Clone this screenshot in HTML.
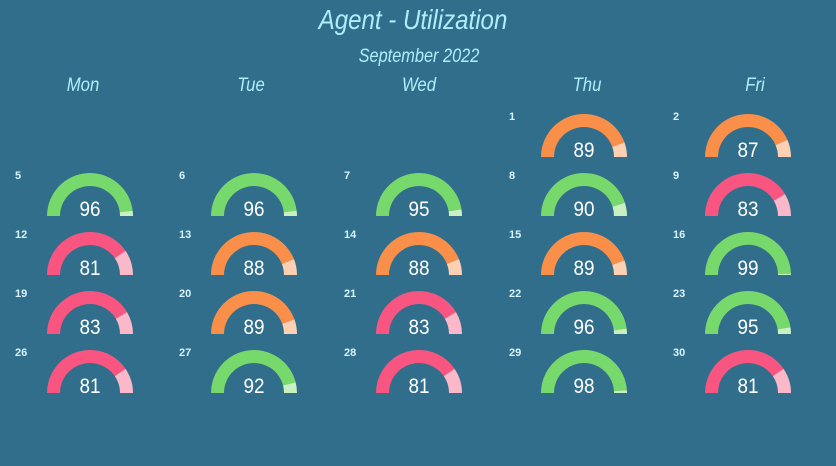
<!DOCTYPE html>
<html><head><meta charset="utf-8"><style>
html,body{margin:0;padding:0;background:#316e8c;}
svg{display:block}
</style></head><body>
<svg id="s" width="836" height="466" xmlns="http://www.w3.org/2000/svg" font-family="Liberation Sans, sans-serif">
<rect width="836" height="466" fill="#316e8c"/>
<text x="413" y="29" text-anchor="middle" font-size="28" font-style="italic" fill="#aeeefa" transform="translate(413,0) scale(0.86,1) translate(-413,0)">Agent - Utilization</text>
<text x="419" y="62" text-anchor="middle" font-size="19" font-style="italic" fill="#aeeefa" transform="translate(419,0) scale(0.86,1) translate(-419,0)">September 2022</text>
</svg>
<script>
var s=document.getElementById('s'),NS='http://www.w3.org/2000/svg';
function el(t,a,txt){var e=document.createElementNS(NS,t);for(var k in a)e.setAttribute(k,a[k]);if(txt!=null)e.textContent=txt;s.appendChild(e);return e;}
var cols=[90,254,419,584,748],days=['Mon','Tue','Wed','Thu','Fri'];
days.forEach(function(d,i){var x=83+168*i;el('text',{x:x,y:91,'text-anchor':'middle','font-size':19,'font-style':'italic',fill:'#aeeefa',transform:'translate('+x+',0) scale(0.88,1) translate('+(-x)+',0)'},d);});
var rows=[157,216,275,334,393];
var data=[[null,null,null,[1,89],[2,87]],[[5,96],[6,96],[7,95],[8,90],[9,83]],[[12,81],[13,88],[14,88],[15,89],[16,99]],[[19,83],[20,89],[21,83],[22,96],[23,95]],[[26,81],[27,92],[28,81],[29,98],[30,81]]];
function arc(cx,cy,R,r,a0,a1){function p(rad,a){return (cx+rad*Math.cos(a)).toFixed(2)+','+(cy-rad*Math.sin(a)).toFixed(2);}
return 'M'+p(R,a0)+' A'+R+','+R+' 0 0 1 '+p(R,a1)+' L'+p(r,a1)+' A'+r+','+r+' 0 0 0 '+p(r,a0)+' Z';}
data.forEach(function(row,ri){row.forEach(function(c,ci){if(!c)return;var cx=cols[ci],cy=rows[ri],v=c[1];
var col,lt;if(v>=90){col='#77d86b';lt='#c8f0c0';}else if(v>=85){col='#f98f49';lt='#fdd0b3';}else{col='#f85680';lt='#fbb8c8';}
var am=Math.PI*(1-v/100);
el('path',{d:arc(cx,cy,43,30,Math.PI,am),fill:col});
el('path',{d:arc(cx,cy,43,30,am,0),fill:lt});
el('text',{x:cx,y:cy,'text-anchor':'middle','font-size':21,fill:'#ffffff',transform:'translate('+cx+',0) scale(0.9,1) translate('+(-cx)+',0)'},v);
el('text',{x:cx-75,y:cy-37,'font-size':11,'font-weight':'bold',fill:'#d8f4fa'},c[0]);
});});
</script>
</body></html>
